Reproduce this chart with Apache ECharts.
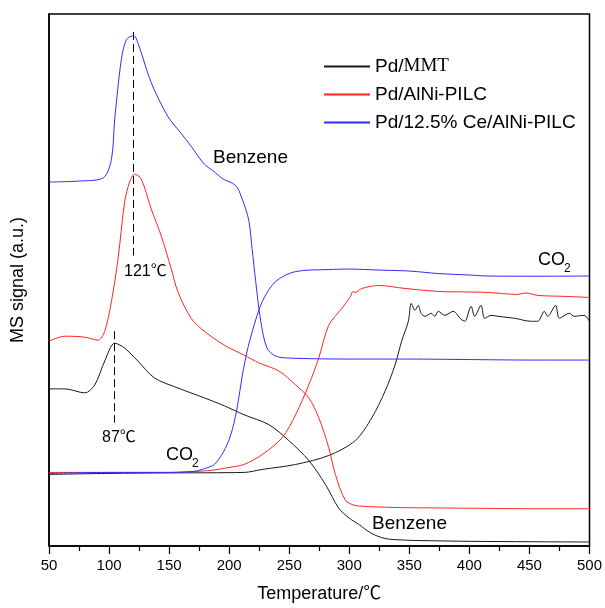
<!DOCTYPE html>
<html>
<head>
<meta charset="utf-8">
<title>MS signal</title>
<script src="https://cdn.jsdelivr.net/npm/echarts@6/dist/echarts.min.js"></script>
<style>
html,body{margin:0;padding:0;background:#fff;}
#main{width:605px;height:608px;}
</style>
</head>
<body>
<div id="main"></div>
<script>
//x axis ticks
var xMin = 50, xMax = 500, xStep = 50;
var legendNames = ['Pd/MMT', 'Pd/AlNi-PILC', 'Pd/12.5% Ce/AlNi-PILC'];
var lineColors = ['#1a1a1a', '#ff2424', '#2e2eff'];

//[temperature, signal a.u.]
var blackBenzene = [[50,158],[63.3,158],[79.8,154],[88.1,162],[96.4,186],[104.7,204],[113,199],[124,186],[137.8,169],[157.2,159],[179.3,149],[195.9,141],[212.4,132],[233.1,122],[249.7,106],[266.3,86],[280.1,62],[291.2,38],[300,28],[307.7,22],[318,13],[329.9,7.5],[345,6],[357.4,5.5],[401.6,4.7],[450,4.3],[500,4]];
var blackCO2 = [[50,72],[100,73],[150,73.5],[212.4,74],[227.6,77],[255.3,82],[282.9,91],[305,106],[318.8,129],[329.9,156],[338.1,182],[343.6,206],[349.2,226],[351.6,244],[354.7,237],[357.4,242],[359.8,234],[363,231],[368.2,234],[371.3,231],[374,236],[379.6,232],[386.5,236],[393.1,228],[396.2,226],[401.4,241],[404.4,231],[409.7,242],[412.7,229],[418,232],[423.7,231],[437.6,229],[451.1,226],[456.9,226],[462.4,236],[465.2,231],[471.8,242],[474.9,229],[483.2,234],[487.3,231],[495.6,232],[500,226]];
var redBenzene = [[50,206],[63.3,211],[79.8,210],[90.9,207],[96.4,216],[102,246],[107.5,289],[113,346],[117.1,366],[121.3,374],[126.8,369],[135.1,339],[143.4,312],[151.7,279],[157.2,256],[168.3,229],[179.3,216],[195.9,202],[212.4,192],[225,184],[241.4,176],[255.3,162],[266.3,149],[274.6,129],[282.9,99],[288.4,72],[296.7,46],[304,41],[310.5,40],[330,39],[350,38.5],[400,38],[450,37.5],[500,37.5]];
var redCO2 = [[50,74],[100,74],[150,74],[170,75],[184.8,76],[200,79],[212.4,82],[227.6,92],[244.2,109],[255.3,132],[266.3,162],[274.6,189],[282.9,222],[293.9,239],[301,251],[303,256],[305,255],[310.5,259],[324.3,262],[346.4,259],[374,256],[395,255.5],[415.5,255],[440,253],[447,254.5],[456.9,252],[480,251],[498.3,250],[500,249.5]];
var blueBenzene = [[50,366],[75,367],[95,370],[102,389],[104.7,429],[110.2,489],[114.4,509],[119.9,513],[122,512],[126.8,496],[135.1,466],[148.9,432],[160,415],[168.3,402],[179.3,384],[187,377],[195,369],[202.5,365],[207,360],[210.8,349],[214,338],[216.6,326],[219.1,299],[222.1,266],[226.3,226],[231.5,199],[238.7,191],[249.7,189],[300,188],[350,188],[400,187.5],[450,187],[500,187]];
var blueCO2 = [[50,73],[100,74],[150,74],[171,75],[180,78],[187.6,82],[195,94],[201.4,112],[206,135],[209.7,162],[211,172],[215,196],[219.3,216],[227.6,246],[238.7,266],[255.3,276],[282.9,278],[300,278.5],[324.3,277.5],[350,276.5],[374,274],[400,272.5],[415.5,271.5],[456.9,271.3],[500,271.5]];

//peak marks
var peakRed = [120.4, 517, 292];
var peakBlack = [104.7, 216, 124];

var sans = '"Liberation Sans", Arial, "Noto Sans CJK SC", sans-serif';

function lineSeries(name, color, data, mark) {
	var s = {
		name: name,
		type: 'line',
		symbol: 'none',
		smooth: 0.3,
		lineStyle: {color: color, width: 1},
		itemStyle: {color: color},
		data: data
	};
	if (mark) {
		s.markLine = {
			silent: true,
			symbol: 'none',
			label: {show: false},
			lineStyle: {color: '#000', width: 1, type: [8, 4]},
			data: [[{coord: [mark[0], mark[1]]}, {coord: [mark[0], mark[2]]}]]
		};
	}
	return s;
}

function textEl(text, x, y, size) {
	return {
		type: 'text', left: x, top: y,
		style: {text: text, fill: '#000', font: size + 'px ' + sans}
	};
}

var option = {
	animation: false,
	backgroundColor: '#fff',
	grid: {
		left: 49, right: 13, top: 14, bottom: 59,
		show: true, borderColor: '#000', borderWidth: 1.5
	},
	legend: {
		orient: 'vertical',
		left: 318, top: 52,
		itemWidth: 46, itemHeight: 14, itemGap: 9,
		data: legendNames,
		itemStyle: {opacity: 0},
		formatter: function (name) {
			if (name === 'Pd/MMT') return 'Pd/{s|MMT}';
			return name;
		},
		textStyle: {
			fontFamily: sans, fontSize: 19, color: '#000',
			rich: {s: {fontFamily: '"Liberation Serif", "Times New Roman", serif', fontSize: 19, color: '#000'}}
		}
	},
	xAxis: {
		type: 'value',
		min: xMin, max: xMax, interval: xStep,
		name: 'Temperature/℃',
		nameLocation: 'middle',
		nameGap: 39,
		nameTextStyle: {fontFamily: sans, fontSize: 18, color: '#000'},
		axisLine: {lineStyle: {color: '#000', width: 1.5}},
		axisTick: {length: 8, lineStyle: {color: '#000', width: 1.2}},
		minorTick: {show: true, splitNumber: 2, length: 5, lineStyle: {color: '#000', width: 1.2}},
		axisLabel: {fontFamily: sans, fontSize: 15, color: '#000', margin: 12},
		splitLine: {show: false}
	},
	yAxis: {
		type: 'value',
		min: 0, max: 535,
		name: 'MS signal (a.u.)',
		nameLocation: 'middle',
		nameGap: 22,
		nameTextStyle: {fontFamily: sans, fontSize: 18, color: '#000'},
		axisLine: {show: true, lineStyle: {color: '#000', width: 1.5}},
		axisTick: {show: false},
		axisLabel: {show: false},
		splitLine: {show: false}
	},
	graphic: [
		textEl('Benzene', 213, 148, 19),
		textEl('Benzene', 372, 514, 19),
		textEl('CO', 166, 446, 18),
		textEl('2', 192, 458, 12),
		textEl('CO', 538, 251, 18),
		textEl('2', 564, 263, 12),
		textEl('121℃', 124, 264, 16),
		textEl('87℃', 102, 430, 16)
	],
	series: [
		lineSeries(legendNames[0], lineColors[0], blackBenzene, peakBlack),
		lineSeries(legendNames[0], lineColors[0], blackCO2),
		lineSeries(legendNames[1], lineColors[1], redBenzene, peakRed),
		lineSeries(legendNames[1], lineColors[1], redCO2),
		lineSeries(legendNames[2], lineColors[2], blueBenzene),
		lineSeries(legendNames[2], lineColors[2], blueCO2)
	]
};

var myChart = echarts.init(document.getElementById('main'));
myChart.setOption(option);
</script>
</body>
</html>
